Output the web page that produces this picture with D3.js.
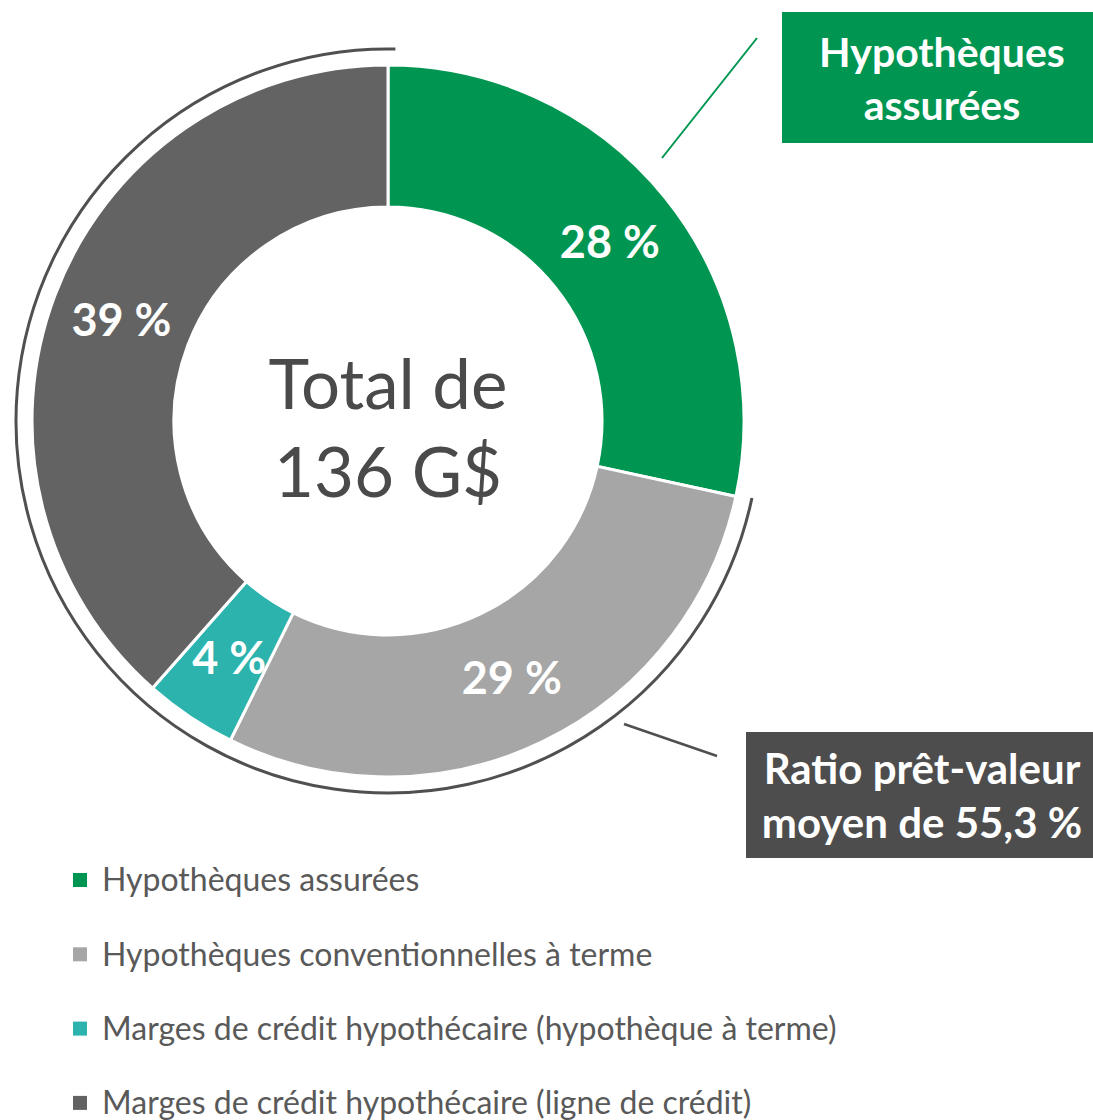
<!DOCTYPE html>
<html>
<head>
<meta charset="utf-8">
<script src="https://cdn.jsdelivr.net/npm/d3@7"></script>
<style>
body { margin: 0; background: #fff; font-family: Lato, "Open Sans", sans-serif; }
.legend text { font-size: 32px; fill: #595959; }
.slice-label { font-size: 45px; font-weight: bold; fill: #fff; }
.center-text { font-size: 69px; fill: #4a4a4a; }
.callout text { font-size: 41px; font-weight: bold; fill: #fff; }
.callout.grey text { font-size: 42px; }
</style>
</head>
<body>
<script>

var categories = [
  "Hypothèques assurées",
  "Hypothèques conventionnelles à terme",
  "Marges de crédit hypothécaire (hypothèque à terme)",
  "Marges de crédit hypothécaire (ligne de crédit)"
];
var values = [28.4, 28.9, 4.2, 38.5];
var pctLabels = ["28 %", "29 %", "4 %", "39 %"];
var colors = ["#009651", "#a6a6a6", "#2cb3ad", "#636363"];
var centerLines = ["Total de", "136 G$"];
var greenCallout = ["Hypothèques", "assurées"];
var greyCallout = ["Ratio prêt-valeur", "moyen de 55,3 %"];

var w = 1093,
    h = 1120,
    cx = 388,
    cy = 421,
    rOuter = 356,
    rInner = 214,
    rRing = 372;

var svg = d3.select("body").append("svg")
    .attr("width", w)
    .attr("height", h);

var pie = d3.pie().sort(null).value(function(d) { return d; });
var arcs = pie(values);

var arc = d3.arc().innerRadius(rInner).outerRadius(rOuter);
var labelArc = d3.arc().innerRadius(285).outerRadius(285);

var donut = svg.append("g")
    .attr("transform", "translate(" + cx + "," + cy + ")");

donut.selectAll("path.slice")
    .data(arcs)
  .enter().append("path")
    .attr("class", "slice")
    .attr("d", arc)
    .attr("fill", function(d, i) { return colors[i]; })
    .attr("stroke", "#fff")
    .attr("stroke-width", 3);

// outer ring around the non-insured slices
var ring = d3.arc()
    .innerRadius(rRing)
    .outerRadius(rRing)
    .startAngle(arcs[1].startAngle - 0.005)
    .endAngle(2 * Math.PI + 0.02);

donut.append("path")
    .attr("d", ring())
    .attr("fill", "none")
    .attr("stroke", "#505050")
    .attr("stroke-width", 3);

donut.selectAll("text.slice-label")
    .data(arcs)
  .enter().append("text")
    .attr("class", "slice-label")
    .attr("transform", function(d) { return "translate(" + labelArc.centroid(d) + ")"; })
    .attr("text-anchor", "middle")
    .attr("dy", ".36em")
    .text(function(d, i) { return pctLabels[i]; });

donut.selectAll("text.center-text")
    .data(centerLines)
  .enter().append("text")
    .attr("class", "center-text")
    .attr("text-anchor", "middle")
    .attr("y", function(d, i) { return -12 + i * 88; })
    .text(function(d) { return d; });

// callouts
svg.append("line")
    .attr("x1", 662).attr("y1", 158)
    .attr("x2", 757).attr("y2", 38)
    .attr("stroke", colors[0])
    .attr("stroke-width", 2);

svg.append("line")
    .attr("x1", 624).attr("y1", 724)
    .attr("x2", 717).attr("y2", 756)
    .attr("stroke", "#505050")
    .attr("stroke-width", 2.5);

var g1 = svg.append("g").attr("class", "callout");
g1.append("rect")
    .attr("x", 782).attr("y", 12)
    .attr("width", 311).attr("height", 131)
    .attr("fill", colors[0]);
g1.selectAll("text")
    .data(greenCallout)
  .enter().append("text")
    .attr("x", 942)
    .attr("y", function(d, i) { return 67 + i * 53; })
    .attr("text-anchor", "middle")
    .text(function(d) { return d; });

var g2 = svg.append("g").attr("class", "callout grey");
g2.append("rect")
    .attr("x", 746).attr("y", 732)
    .attr("width", 347).attr("height", 126)
    .attr("fill", "#4d4d4d");
g2.selectAll("text")
    .data(greyCallout)
  .enter().append("text")
    .attr("x", 922)
    .attr("y", function(d, i) { return 784 + i * 54; })
    .attr("text-anchor", "middle")
    .text(function(d) { return d; });

// legend
var legend = svg.append("g").attr("class", "legend")
    .selectAll("g")
    .data(categories)
  .enter().append("g")
    .attr("transform", function(d, i) { return "translate(73," + (880 + i * 74.3) + ")"; });

legend.append("rect")
    .attr("x", 0).attr("y", -7)
    .attr("width", 14).attr("height", 14)
    .attr("fill", function(d, i) { return colors[i]; });

legend.append("text")
    .attr("x", 29)
    .attr("dy", ".35em")
    .text(function(d) { return d; });

</script>
</body>
</html>
